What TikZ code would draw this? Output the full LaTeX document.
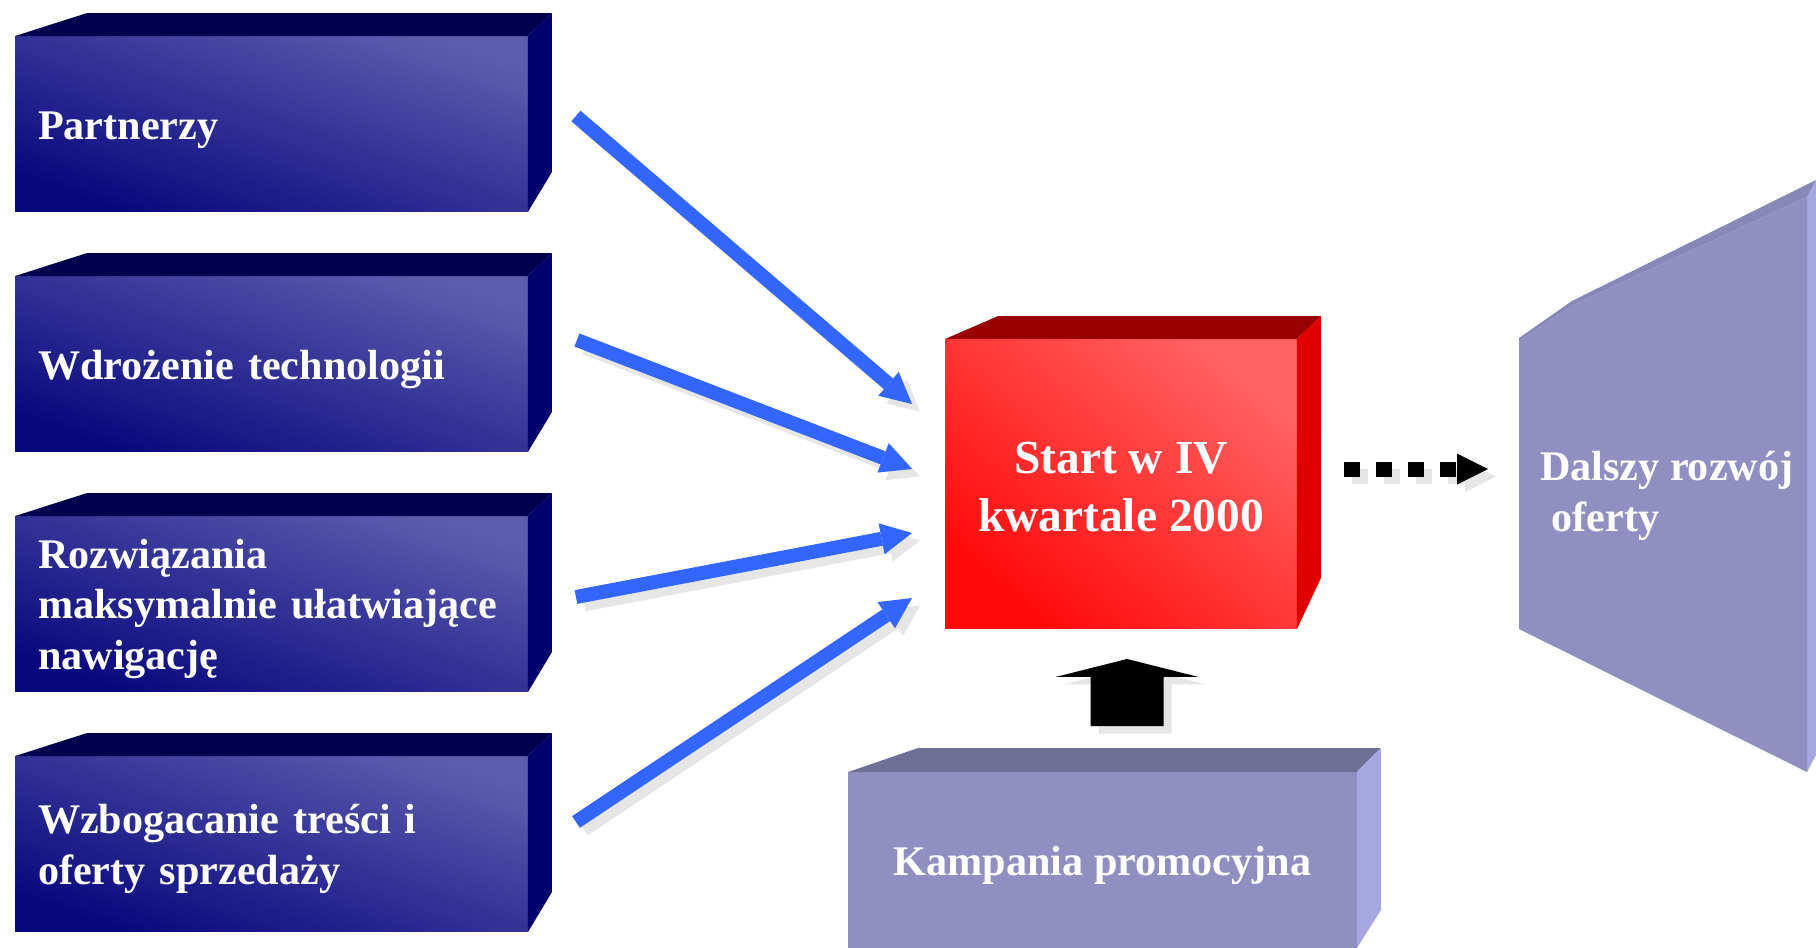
\documentclass[tikz,border=0pt]{standalone}
\usepackage{fontspec}
\setmainfont{Liberation Serif}
\usetikzlibrary{arrows.meta}

\definecolor{navylight}{RGB}{92,92,174}
\definecolor{navydark}{RGB}{8,8,126}
\definecolor{navytop}{RGB}{0,0,78}
\definecolor{navyside}{RGB}{0,0,108}
\definecolor{redlight}{RGB}{255,98,98}
\definecolor{reddark}{RGB}{255,10,10}
\definecolor{redtop}{RGB}{153,0,0}
\definecolor{redside}{RGB}{224,0,0}
\definecolor{lilac}{RGB}{143,143,194}
\definecolor{lilactop}{RGB}{112,112,150}
\definecolor{lilacrim}{RGB}{136,136,184}
\definecolor{lilacside}{RGB}{166,166,224}
\definecolor{arrowblue}{RGB}{51,102,255}
\definecolor{shadowgray}{RGB}{230,230,230}

\begin{document}
\begin{tikzpicture}[x=0.02cm, y=-0.02cm,
    face/.style={inner sep=0pt, outer sep=0pt, text=white, font=\fontsize{24}{29}\selectfont\bfseries,
        text height=0.8cm, text depth=0.2cm},
    bluebox/.style={face, minimum width=10.26cm, minimum height=3.52cm, text width=9.34cm, inner xsep=0.46cm, align=left,
        bottom color=navydark, top color=navylight, shading angle=-19},
    redbox/.style={face, minimum width=7.04cm, minimum height=5.8cm, align=center, text height=2.08cm,
        bottom color=reddark, top color=redlight, shading angle=-40, font=\fontsize{27}{33}\selectfont\bfseries},
    lilacbox/.style={face, fill=lilac, minimum width=10.18cm, minimum height=3.52cm},
    feed/.style={draw=arrowblue, line width=0.28cm, -{Triangle[length=0.62cm, width=0.63cm, line width=0pt]}},
    dotarrow/.style={line width=0.3cm, dash pattern=on 0.32cm off 0.32cm, -{Triangle[length=0.62cm, width=0.62cm, line width=0pt]}},
    blockup/.style={line width=1.46cm, -{Triangle[length=0.36cm, width=2.86cm, line width=0pt]}},
    shadowed/.style={draw=shadowgray, transform canvas={xshift=0.16cm, yshift=-0.15cm}} % cien pod strzalkami
    ]
\useasboundingbox (0,0) rectangle (1816,947);

% lewa kolumna
\node[bluebox] (p1) at (271.5,124) {Partnerzy};
\node[bluebox] (p2) at (271.5,364) {Wdrożenie technologii};
\node[bluebox, text depth=2.24cm] (p3) at (271.5,604) {Rozwiązania\\maksymalnie ułatwiające\\nawigację};
\node[bluebox, text depth=1.22cm] (p4) at (271.5,844) {Wzbogacanie treści i\\oferty sprzedaży};
\foreach \n in {p1,p2,p3,p4} {
  \fill[navytop] (\n.north west) -- ++(72,-23) -- ([shift={(24,-23)}]\n.north east) -- (\n.north east) -- cycle;
  \fill[navyside] (\n.north east) -- ++(24,-23) -- ([shift={(24,-40)}]\n.south east) -- (\n.south east) -- cycle;
}

% srodek
\node[redbox] (start) at (1121,484) {Start w IV\\kwartale 2000};
\fill[redtop] (start.north west) -- ++(53,-23) -- ([shift={(24,-23)}]start.north east) -- (start.north east) -- cycle;
\fill[redside] (start.north east) -- ++(24,-23) -- ([shift={(24,-51)}]start.south east) -- (start.south east) -- cycle;

\node[lilacbox] (kamp) at (1102.5,860) {Kampania promocyjna};
\fill[lilactop] (kamp.north west) -- ++(70,-24) -- ([shift={(24,-24)}]kamp.north east) -- (kamp.north east) -- cycle;
\fill[lilacside] (kamp.north east) -- ++(24,-24) -- ([shift={(24,-38)}]kamp.south east) -- (kamp.south east) -- cycle;

% prawa bryla
\fill[lilacrim] (1519,338) -- (1572,301) -- (1816,180) -- (1816,186) -- (1807,197) -- (1573,305) -- (1519,341) -- cycle;
\fill[lilacside] (1807,197) -- (1816,180) -- (1816,755) -- (1807,772) -- cycle;
\fill[lilac] (1519,341) -- (1573,305) -- (1807,197) -- (1807,772) -- (1519,629) -- cycle;
\node[face, text height=, text depth=, inner xsep=0.42cm, align=left, anchor=west] (dev) at (1519,496) {Dalszy rozwój\\\hspace*{0.28em}oferty};

% strzalki
\coordinate (s1) at ([shift={(48,-8)}]p1.east);
\coordinate (e1) at ([shift={(-33,-80)}]start.west);
\coordinate (s2) at ([shift={(49,-24)}]p2.east);
\coordinate (e2) at ([shift={(-33,-15)}]start.west);
\coordinate (s3) at ([shift={(48,-7)}]p3.east);
\coordinate (e3) at ([shift={(-33,49)}]start.west);
\coordinate (s4) at ([shift={(48,-22)}]p4.east);
\coordinate (e4) at ([shift={(-33,114)}]start.west);
\coordinate (d0) at ([shift={(47,-15)}]start.east);
\coordinate (d1) at ([shift={(-31,-27)}]dev.west);
\coordinate (u0) at ([shift={(24.5,-46)}]kamp.north);
\coordinate (u1) at ([shift={(6,30)}]start.south);

\foreach \i in {1,2,3,4} {
  \draw[feed, shadowed] (s\i) -- (e\i);
  \draw[feed] (s\i) -- (e\i);
}
\draw[dotarrow, shadowed] (d0) -- (d1);
\draw[dotarrow] (d0) -- (d1);
\draw[blockup, shadowed] (u0) -- (u1);
\draw[blockup] (u0) -- (u1);
\end{tikzpicture}
\end{document}
